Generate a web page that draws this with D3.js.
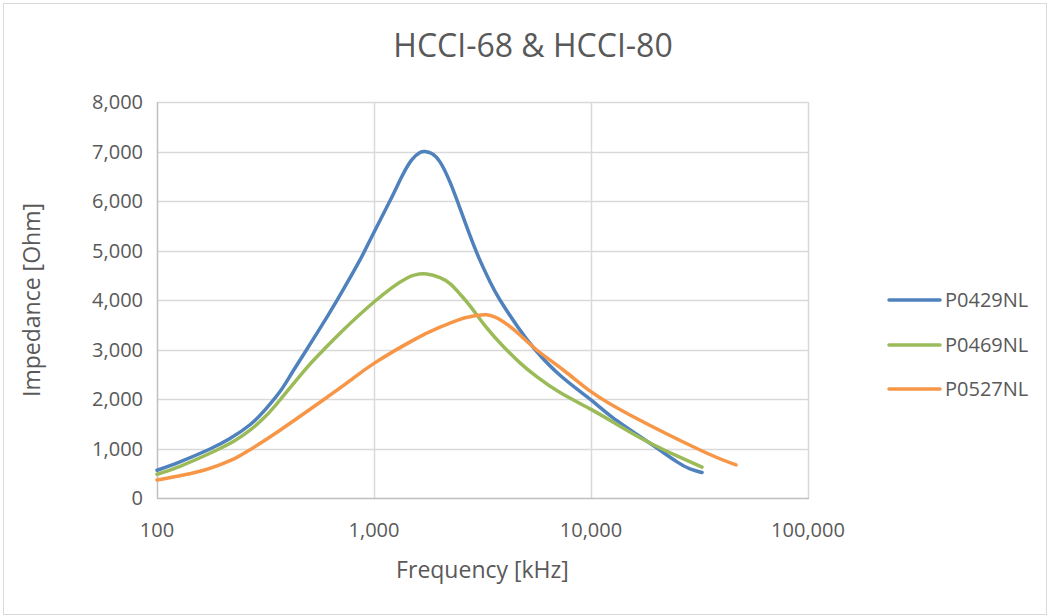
<!DOCTYPE html>
<html>
<head>
<meta charset="utf-8">
<script src="https://cdn.jsdelivr.net/npm/d3@7"></script>
<style>
  html, body { margin: 0; padding: 0; background: #fff; }
  svg { display: block; }
</style>
</head>
<body>
<svg id="chart" width="1050" height="615"></svg>
<script>
// ---- data (frequency in kHz, impedance in Ohm) ----
const seriesNames = ["P0429NL", "P0469NL", "P0527NL"];
const seriesColors = ["#4F81BD", "#9BBB59", "#F79646"];

const freqA = [100, 127.6, 175.5, 216.9, 268.3, 314.7, 368.9, 423.2, 546.2, 682.6, 862, 989.4, 1185, 1342, 1492, 1629, 1718, 1845, 2014, 2240, 2491, 2770, 3080, 3424, 3807, 4608, 5521, 7197, 10000, 12630, 18710, 24900, 28590, 32480];
const impA  = [560, 730, 990, 1200, 1480, 1780, 2150, 2560, 3330, 4030, 4810, 5330, 6005, 6490, 6830, 6980, 7000, 6960, 6790, 6380, 5850, 5300, 4800, 4370, 4000, 3450, 3000, 2480, 1980, 1620, 1105, 730, 590, 515];

const freqB = [100, 127.6, 189, 228.8, 268.3, 314.7, 368.9, 480.9, 576, 697, 1000, 1415, 1749, 2014, 2240, 2491, 2770, 3317, 3944, 4708, 5621, 7197, 10000, 13605, 18710, 24900, 32480];
const impB  = [480, 640, 970, 1160, 1370, 1640, 1980, 2590, 2960, 3330, 3960, 4440, 4525, 4450, 4330, 4120, 3880, 3430, 3060, 2730, 2450, 2130, 1790, 1450, 1110, 850, 625];

const freqC = [100, 127.6, 157.8, 189, 228.8, 268.3, 368.9, 601, 775, 1000, 1518, 2014, 2491, 2770, 3307, 3944, 4708, 5621, 7454, 10000, 15125, 31790, 46570];
const impC  = [365, 450, 540, 650, 800, 975, 1370, 2020, 2370, 2720, 3190, 3450, 3610, 3663, 3700, 3562, 3293, 2990, 2586, 2148, 1677, 970, 670];

const xTicks = [100, 1000, 10000, 100000];
const yTicks = [0, 1000, 2000, 3000, 4000, 5000, 6000, 7000, 8000];

const titleText = "HCCI-68 & HCCI-80";
const xTitle = "Frequency [kHz]";
const yTitle = "Impedance [Ohm]";

// ---- drawing ----
const svg = d3.select("#chart");
const W = 1050, H = 615;
const plot = { left: 157, right: 808, top: 102, bottom: 498 };
const textColor = "#595959";
const fontMain = "'Open Sans', 'DejaVu Sans', sans-serif";

// outer border
svg.append("rect")
  .attr("x", 3.5).attr("y", 3.5).attr("width", W - 7).attr("height", H - 4)
  .attr("fill", "#fff").attr("stroke", "#d9d9d9").attr("stroke-width", 1);

const x = d3.scaleLog().domain([100, 100000]).range([plot.left, plot.right]);
const y = d3.scaleLinear().domain([0, 8000]).range([plot.bottom, plot.top]);
const fmt = d3.format(",");

// horizontal gridlines
svg.append("g").selectAll("line").data(yTicks.filter(d => d > 0)).join("line")
  .attr("x1", plot.left).attr("x2", plot.right)
  .attr("y1", d => Math.round(y(d)) + 0.5).attr("y2", d => Math.round(y(d)) + 0.5)
  .attr("stroke", "#d9d9d9").attr("stroke-width", 1.5);

// vertical gridlines
svg.append("g").selectAll("line").data(xTicks.filter(d => d > 100)).join("line")
  .attr("x1", d => Math.round(x(d)) + 0.5).attr("x2", d => Math.round(x(d)) + 0.5)
  .attr("y1", plot.top).attr("y2", plot.bottom)
  .attr("stroke", "#d9d9d9").attr("stroke-width", 1.5);

// axes lines
svg.append("line")
  .attr("x1", plot.left + 0.5).attr("x2", plot.left + 0.5)
  .attr("y1", plot.top).attr("y2", plot.bottom + 1)
  .attr("stroke", "#bfbfbf").attr("stroke-width", 1.5);
svg.append("line")
  .attr("x1", plot.left).attr("x2", plot.right + 1)
  .attr("y1", plot.bottom + 0.5).attr("y2", plot.bottom + 0.5)
  .attr("stroke", "#bfbfbf").attr("stroke-width", 1.5);

// y tick labels
svg.append("g").selectAll("text").data(yTicks).join("text")
  .attr("x", 143).attr("y", d => y(d))
  .attr("dy", "0.36em")
  .attr("text-anchor", "end")
  .attr("font-family", fontMain).attr("font-size", 20)
  .attr("fill", textColor)
  .text(d => fmt(d));

// x tick labels
svg.append("g").selectAll("text").data(xTicks).join("text")
  .attr("x", d => x(d)).attr("y", 530)
  .attr("dy", "0.36em")
  .attr("text-anchor", "middle")
  .attr("font-family", fontMain).attr("font-size", 20)
  .attr("fill", textColor)
  .text(d => fmt(d));

// title
svg.append("text")
  .attr("x", 533).attr("y", 45).attr("dy", "0.36em")
  .attr("text-anchor", "middle")
  .attr("font-family", fontMain)
  .attr("font-size", 32)
  .attr("fill", textColor)
  .text(titleText);

// axis titles
svg.append("text")
  .attr("x", (plot.left + plot.right) / 2).attr("y", 570).attr("dy", "0.36em")
  .attr("text-anchor", "middle")
  .attr("font-family", fontMain).attr("font-size", 23)
  .attr("fill", textColor)
  .text(xTitle);

svg.append("text")
  .attr("transform", `translate(32, ${(plot.top + plot.bottom) / 2}) rotate(-90)`)
  .attr("dy", "0.36em")
  .attr("text-anchor", "middle")
  .attr("font-family", fontMain).attr("font-size", 23)
  .attr("fill", textColor)
  .text(yTitle);

// series
const series = [
  { name: seriesNames[0], color: seriesColors[0], f: freqA, v: impA },
  { name: seriesNames[1], color: seriesColors[1], f: freqB, v: impB },
  { name: seriesNames[2], color: seriesColors[2], f: freqC, v: impC }
];

const line = d3.line()
  .x(d => x(d[0])).y(d => y(d[1]))
  .curve(d3.curveNatural);

svg.append("g").selectAll("path").data(series).join("path")
  .attr("d", s => line(s.f.map((f, i) => [f, s.v[i]])))
  .attr("fill", "none")
  .attr("stroke", s => s.color)
  .attr("stroke-width", 3.5)
  .attr("stroke-linecap", "round")
  .attr("stroke-linejoin", "round");

// legend
const legendY = [300, 345, 389];
const lg = svg.append("g").selectAll("g").data(series).join("g")
  .attr("transform", (s, i) => `translate(0, ${legendY[i]})`);
lg.append("line")
  .attr("x1", 889).attr("x2", 940).attr("y1", 0).attr("y2", 0)
  .attr("stroke", s => s.color).attr("stroke-width", 3.5)
  .attr("stroke-linecap", "round");
lg.append("text")
  .attr("x", 945).attr("y", 0).attr("dy", "0.36em")
  .attr("font-family", fontMain)
  .attr("font-size", 20)
  .attr("fill", textColor)
  .text(s => s.name);
</script>
</body>
</html>
